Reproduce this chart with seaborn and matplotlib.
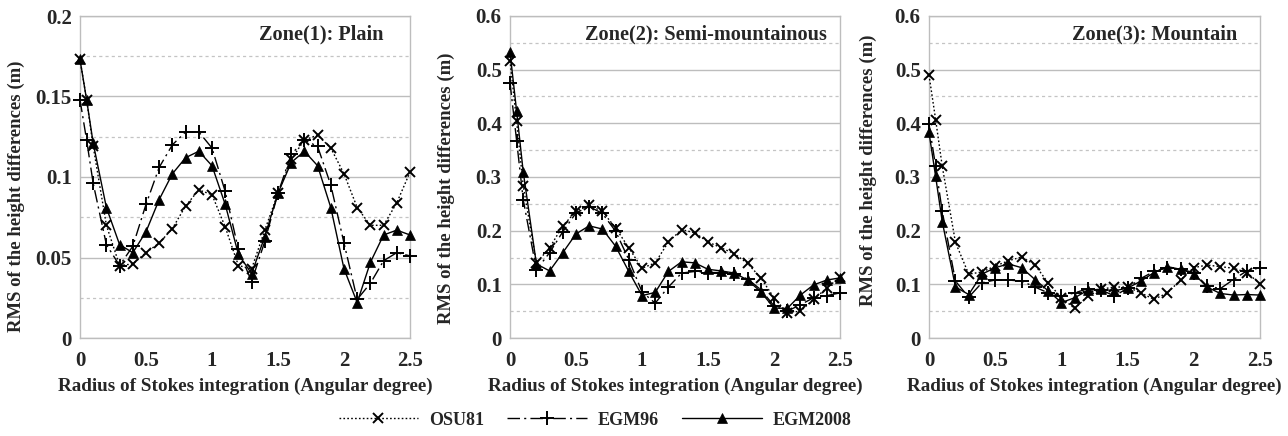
import matplotlib
matplotlib.use("Agg")
import matplotlib.pyplot as plt
from matplotlib.lines import Line2D
from matplotlib.ticker import MultipleLocator, FuncFormatter
import seaborn as sns
import pandas as pd

# Integration radius (angular degrees)
radius = [0, 0.05, 0.1, 0.2, 0.3, 0.4, 0.5, 0.6, 0.7, 0.8, 0.9, 1.0, 1.1, 1.2,
          1.3, 1.4, 1.5, 1.6, 1.7, 1.8, 1.9, 2.0, 2.1, 2.2, 2.3, 2.4, 2.5]

# Zone 1: plain
osu81_plain = [0.173, 0.148, 0.119, 0.070, 0.045, 0.046, 0.053, 0.059, 0.068, 0.082,
               0.092, 0.089, 0.069, 0.045, 0.043, 0.067, 0.090, 0.111, 0.123, 0.126,
               0.118, 0.102, 0.081, 0.070, 0.070, 0.084, 0.103]
egm96_plain = [0.148, 0.123, 0.096, 0.058, 0.045, 0.057, 0.083, 0.106, 0.120, 0.128,
               0.128, 0.118, 0.091, 0.055, 0.035, 0.060, 0.090, 0.114, 0.123, 0.119,
               0.095, 0.059, 0.024, 0.034, 0.048, 0.053, 0.051]
egm2008_plain = [0.173, 0.148, 0.121, 0.081, 0.058, 0.053, 0.066, 0.086, 0.102, 0.112,
                 0.116, 0.107, 0.083, 0.052, 0.040, 0.063, 0.090, 0.109, 0.116, 0.107,
                 0.081, 0.043, 0.022, 0.047, 0.064, 0.067, 0.064]

# Zone 2: semi-mountainous
osu81_semi = [0.517, 0.404, 0.284, 0.140, 0.168, 0.209, 0.236, 0.247, 0.236, 0.205,
              0.168, 0.130, 0.140, 0.179, 0.202, 0.196, 0.179, 0.168, 0.157, 0.139,
              0.112, 0.075, 0.047, 0.050, 0.072, 0.093, 0.114]
egm96_semi = [0.476, 0.368, 0.258, 0.127, 0.159, 0.198, 0.233, 0.245, 0.232, 0.199,
              0.146, 0.086, 0.065, 0.095, 0.121, 0.124, 0.122, 0.122, 0.120, 0.110,
              0.090, 0.060, 0.050, 0.062, 0.075, 0.079, 0.084]
egm2008_semi = [0.533, 0.423, 0.310, 0.138, 0.125, 0.159, 0.194, 0.209, 0.203, 0.171,
                0.124, 0.079, 0.085, 0.124, 0.142, 0.140, 0.128, 0.125, 0.121, 0.108,
                0.086, 0.056, 0.055, 0.080, 0.099, 0.108, 0.112]

# Zone 3: mountain
osu81_mount = [0.490, 0.407, 0.320, 0.178, 0.119, 0.123, 0.134, 0.144, 0.151, 0.136,
               0.103, 0.075, 0.055, 0.078, 0.091, 0.095, 0.095, 0.084, 0.072, 0.084,
               0.108, 0.131, 0.136, 0.133, 0.130, 0.122, 0.101]
egm96_mount = [0.398, 0.320, 0.236, 0.106, 0.076, 0.103, 0.108, 0.108, 0.106, 0.095,
               0.084, 0.078, 0.084, 0.092, 0.090, 0.078, 0.093, 0.111, 0.124, 0.131,
               0.128, 0.122, 0.097, 0.092, 0.109, 0.125, 0.131]
egm2008_mount = [0.383, 0.301, 0.217, 0.095, 0.081, 0.119, 0.131, 0.138, 0.131, 0.109,
                 0.088, 0.066, 0.075, 0.089, 0.091, 0.088, 0.093, 0.106, 0.122, 0.133,
                 0.128, 0.120, 0.095, 0.083, 0.080, 0.081, 0.080]

zone_titles = ["Zone(1): Plain", "Zone(2): Semi-mountainous", "Zone(3): Mountain"]
model_names = ["OSU81", "EGM96", "EGM2008"]

sns.set_theme(style="white")
plt.rcParams["font.family"] = ["Liberation Serif", "DejaVu Serif"]
plt.rcParams["font.weight"] = "bold"

styles = {
    "OSU81": dict(marker="x", linestyle=(0, (1.2, 1.6)), markersize=7, mew=1.4),
    "EGM96": dict(marker="+", linestyle=(0, (9, 3, 1.5, 3)), markersize=10, mew=1.4),
    "EGM2008": dict(marker="^", linestyle="-", markersize=7.5, mew=0.5),
}

zones = [
    dict(series=[osu81_plain, egm96_plain, egm2008_plain], ymax=0.2, major=0.05,
         rect=[80, 338, 330], title_x=0.92, ylab=(-0.167, 0.44)),
    dict(series=[osu81_semi, egm96_semi, egm2008_semi], ymax=0.6, major=0.1,
         rect=[510, 338, 330], title_x=0.96, ylab=(-0.167, 0.466)),
    dict(series=[osu81_mount, egm96_mount, egm2008_mount], ymax=0.6, major=0.1,
         rect=[929, 338, 331], title_x=0.93, ylab=(-0.157, 0.52)),
]

W, H = 1288, 436
fig = plt.figure(figsize=(W / 100, H / 100), dpi=100)
fmt = FuncFormatter(lambda v, p: f"{v:g}")
grid_col = "#bdbdbd"

for zi, z in enumerate(zones):
    left, bottom, width = z["rect"]
    ax = fig.add_axes([left / W, (H - bottom) / H, width / W, 322 / H])
    frames = []
    for name, vals in zip(model_names, z["series"]):
        frames.append(pd.DataFrame({"radius": radius, "rms": vals, "model": name}))
    df = pd.concat(frames, ignore_index=True)
    for name in model_names:
        st = styles[name]
        sub = df[df["model"] == name]
        sns.lineplot(data=sub, x="radius", y="rms", ax=ax, color="black",
                     linewidth=1.0, marker=st["marker"], markersize=st["markersize"],
                     markeredgewidth=st["mew"], markerfacecolor="black",
                     markeredgecolor="black", errorbar=None, sort=False,
                     clip_on=False, zorder=3)
        ax.lines[-1].set_linestyle(st["linestyle"])

    ax.set_xlim(0, 2.5)
    ax.set_ylim(0, z["ymax"])
    ax.xaxis.set_major_locator(MultipleLocator(0.5))
    ax.yaxis.set_major_locator(MultipleLocator(z["major"]))
    ax.yaxis.set_minor_locator(MultipleLocator(z["major"] / 2))
    ax.xaxis.set_major_formatter(fmt)
    ax.yaxis.set_major_formatter(fmt)
    ax.grid(which="major", axis="y", color=grid_col, linewidth=1.0, linestyle="-")
    ax.grid(which="minor", axis="y", color="#c4c4c4", linewidth=0.9,
            linestyle=(0, (2.5, 2.5)))
    ax.set_axisbelow(True)
    for s in ax.spines.values():
        s.set_color(grid_col)
        s.set_linewidth(1.0)
    ax.tick_params(axis="both", which="major", labelsize=15, length=4,
                   color=grid_col, direction="out", pad=5)
    ax.tick_params(axis="y", which="major", length=0, pad=6)
    ax.tick_params(which="minor", length=0)
    for lab in ax.get_xticklabels() + ax.get_yticklabels():
        lab.set_fontweight("bold")

    ax.set_xlabel("Radius of Stokes integration (Angular degree)", fontsize=13.8,
                  fontweight="bold", labelpad=5)
    ax.set_ylabel("RMS of the height differences (m)", fontsize=13.5,
                  fontweight="bold")
    ax.yaxis.set_label_coords(*z["ylab"])
    ax.text(z["title_x"], 0.944, zone_titles[zi], transform=ax.transAxes,
            ha="right", va="center", fontsize=14.6, fontweight="bold")

handles = [
    Line2D([], [], color="black", linewidth=1.0, marker=styles[n]["marker"],
           markersize=styles[n]["markersize"], markeredgewidth=styles[n]["mew"],
           markerfacecolor="black", linestyle=styles[n]["linestyle"])
    for n in model_names
]
fig.legend(handles, model_names, loc="center", bbox_to_anchor=(595 / W, 1 - 420 / H),
           ncol=3, frameon=False, handlelength=4.4, columnspacing=1.3,
           handletextpad=0.6, prop={"size": 13, "weight": "bold"})

fig.savefig("out.png", dpi=100)
